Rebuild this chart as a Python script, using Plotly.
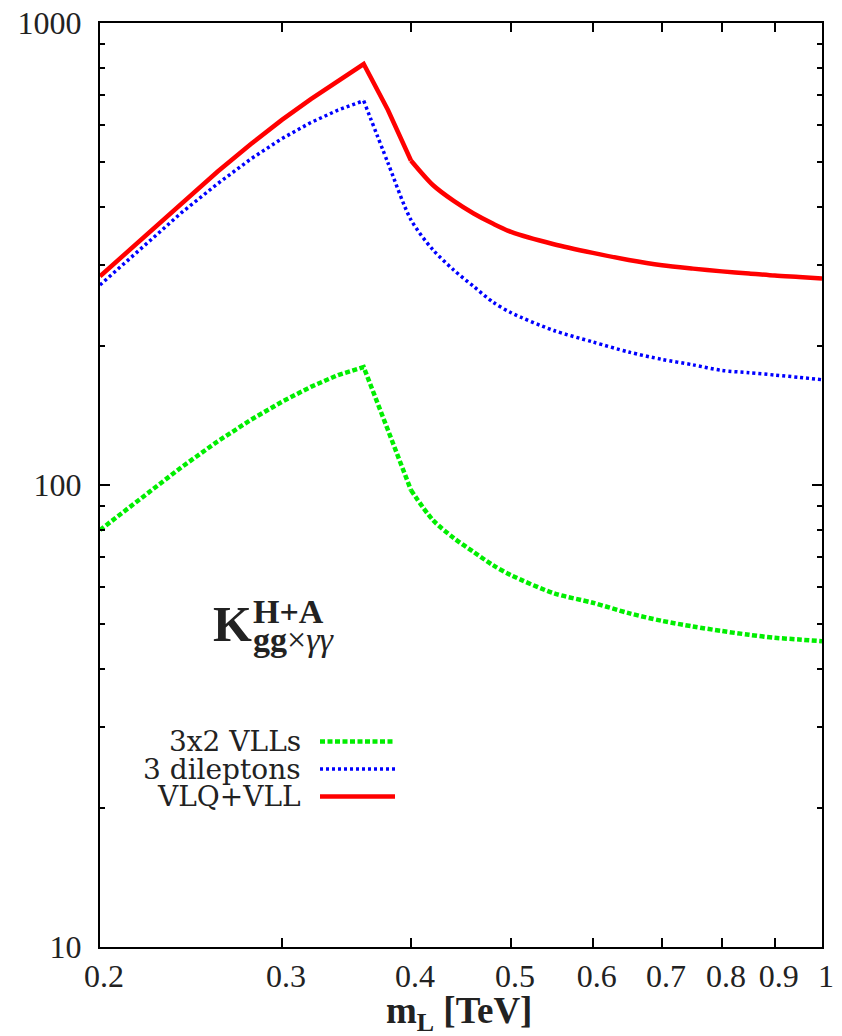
import plotly.graph_objects as go

# Lepton mass m_L [TeV]
m_L = [0.20, 0.22, 0.24, 0.26, 0.28, 0.30, 0.32, 0.34, 0.36, 0.38, 0.40, 0.42, 0.44,
       0.46, 0.48, 0.50, 0.55, 0.60, 0.65, 0.70, 0.75, 0.80, 0.85, 0.90, 0.95, 1.00]

# K factor for each scenario
k_vlq_vll = [283, 343, 408, 477, 547, 617, 684, 750, 815, 648, 504, 446, 412,
             387, 368, 353, 332, 318, 307, 299, 294, 290, 287, 284, 282, 280]
k_dileptons = [271, 328, 389, 449, 508, 562, 609, 648, 679, 498, 375, 323, 292,
               269, 249, 236, 216, 204, 194, 187, 182, 177, 175, 173, 171, 169]
k_3x2_vlls = [79.9, 94.3, 109.4, 124.3, 138.4, 151.4, 163.1, 173.0, 180.0, 131.5, 97.5, 84.0, 76.8,
              71.6, 67.1, 63.8, 58.3, 55.6, 52.8, 50.8, 49.4, 48.3, 47.4, 46.7, 46.3, 45.9]

x_ticks = [0.2, 0.3, 0.4, 0.5, 0.6, 0.7, 0.8, 0.9, 1.0]
x_ticktext = ["0.2", "0.3", "0.4", "0.5", "0.6", "0.7", "0.8", "0.9", "1"]
y_ticks = [10, 100, 1000]
y_ticktext = ["10", "100", "1000"]
y_minor = [20, 30, 40, 50, 60, 70, 80, 90, 200, 300, 400, 500, 600, 700, 800, 900]

# name, values, colour, width, dash, index where the smooth tail starts
series = [
    ("3x2 VLLs", k_3x2_vlls, "#00ee00", 4.5, "5px,2.5px", 10),
    ("3 dileptons", k_dileptons, "#0000ff", 3.5, "3px,3px", 8),
    ("VLQ+VLL", k_vlq_vll, "#ff0000", 4.5, "solid", 10),
]

SERIF = "Liberation Serif, DejaVu Serif, serif"
KEY_FONT = "DejaVu Serif, Liberation Serif, serif"
INK = "#222222"
W, H = 842, 1036
L, R, T, B = 100, 20, 23, 89
PW, PH = W - L - R, H - T - B


def px(xp):
    return (xp - L) / PW


def py(yp):
    return (H - B - yp) / PH


fig = go.Figure()
for name, vals, color, width, dash, k in series:
    line = dict(color=color, width=width, dash=dash)
    # piecewise-linear rise through the threshold kink
    fig.add_trace(go.Scatter(x=m_L[:k + 1], y=vals[:k + 1], mode="lines", name=name,
                             line=line, showlegend=False))
    # smooth falling tail
    fig.add_trace(go.Scatter(x=m_L[k:], y=vals[k:], mode="lines", name=name,
                             line=dict(line, shape="spline", smoothing=0.8),
                             showlegend=False))

# Key drawn gnuplot-style: right-aligned label, sample line to the right
legend_rows = [741.5, 769, 796.5]
annotations = []
shapes = []
for (name, vals, color, width, dash, k), yrow in zip(series, legend_rows):
    annotations.append(dict(
        x=px(303), y=py(yrow), xref="paper", yref="paper",
        text=name, showarrow=False, xanchor="right", yanchor="middle",
        font=dict(family=KEY_FONT, size=28, color=INK),
    ))
    shapes.append(dict(
        type="line", xref="paper", yref="paper",
        x0=px(320), x1=px(395), y0=py(yrow), y1=py(yrow),
        line=dict(color=color, width=width, dash=dash),
    ))

# K^{H+A}_{gg x gamma gamma} label
annotations += [
    dict(x=px(232), y=py(624), xref="paper", yref="paper", text="<b>K</b>",
         showarrow=False, xanchor="center", yanchor="middle",
         font=dict(family=SERIF, size=50, color=INK)),
    dict(x=px(251), y=py(611), xref="paper", yref="paper", text="<b>H+A</b>",
         showarrow=False, xanchor="left", yanchor="middle",
         font=dict(family=SERIF, size=34, color=INK)),
    dict(x=px(251), y=py(639), xref="paper", yref="paper",
         text="<b>gg</b>×<i>γγ</i>",
         showarrow=False, xanchor="left", yanchor="middle",
         font=dict(family=SERIF, size=34, color=INK)),
    dict(x=px(459), y=py(1013), xref="paper", yref="paper",
         text="<b>m<sub>L</sub> [TeV]</b>",
         showarrow=False, xanchor="center", yanchor="middle",
         font=dict(family=SERIF, size=37, color=INK)),
]

axis_common = dict(
    showline=True, linecolor="black", linewidth=2, mirror="ticks",
    ticks="inside", tickcolor="black", tickwidth=1.5,
    showgrid=False, zeroline=False, automargin=False,
    tickfont=dict(family=SERIF, size=32, color=INK),
)

fig.update_layout(
    width=W, height=H,
    margin=dict(l=L, r=R, t=T, b=B, autoexpand=False),
    paper_bgcolor="white", plot_bgcolor="white",
    xaxis=dict(type="log", range=[-0.69897, 0.0], tickmode="array",
               tickvals=x_ticks, ticktext=x_ticktext, ticklen=9,
               ticklabelshift=4, ticklabelstandoff=0, **axis_common),
    yaxis=dict(type="log", range=[1, 3], tickmode="array",
               tickvals=y_ticks, ticktext=y_ticktext, ticklen=10,
               ticklabelstandoff=10,
               minor=dict(tickmode="array", tickvals=y_minor, ticklen=5,
                          ticks="inside", tickcolor="black", tickwidth=1.5,
                          showgrid=False),
               **axis_common),
    annotations=annotations,
    shapes=shapes,
)

fig.write_html("out.html")
